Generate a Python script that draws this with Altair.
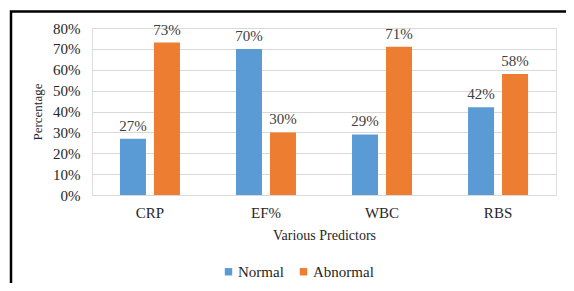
import altair as alt
import pandas as pd

categories = ["CRP", "EF%", "WBC", "RBS"]
normal = [27, 70, 29, 42]
abnormal = [73, 30, 71, 58]
series = ["Normal", "Abnormal"]
colors = ["#5B9BD5", "#ED7D31"]

rows = []
for i, c in enumerate(categories):
    rows.append({"cat": c, "series": "Normal", "value": normal[i] / 100})
    rows.append({"cat": c, "series": "Abnormal", "value": abnormal[i] / 100})
df = pd.DataFrame(rows)

FONT = "Liberation Serif"

x = alt.X("cat:N", sort=categories,
          scale=alt.Scale(paddingInner=0.483, paddingOuter=0.241),
          axis=alt.Axis(title="Various  Predictors", labelAngle=0, ticks=False, domain=False,
                        labelFont=FONT, labelFontSize=15, labelColor="#262626", labelPadding=10,
                        titleFont=FONT, titleFontSize=14, titleFontWeight="normal",
                        titleColor="#262626", titlePadding=8))
xo = alt.XOffset("series:N", sort=series,
                 scale=alt.Scale(paddingInner=0.235, paddingOuter=0))
y = alt.Y("value:Q", scale=alt.Scale(domain=[0, 0.8]),
          axis=alt.Axis(title="Percentage", format=".0%", values=[0, .1, .2, .3, .4, .5, .6, .7, .8],
                        ticks=False, domain=False, gridColor="#D9D9D9", gridWidth=1,
                        labelFont=FONT, labelFontSize=15, labelColor="#262626", labelPadding=12,
                        titleFont=FONT, titleFontSize=13, titleFontWeight="normal",
                        titleColor="#262626", titlePadding=8))
color = alt.Color("series:N", sort=series,
                  scale=alt.Scale(domain=series, range=colors),
                  legend=alt.Legend(title=None, orient="none", direction="horizontal",
                                    legendX=129, legendY=236, symbolType="square", symbolSize=55,
                                    symbolStrokeWidth=0, labelFont=FONT, labelFontSize=15,
                                    labelColor="#262626", columnPadding=12, labelOffset=2))

base = alt.Chart(df).encode(x=x, xOffset=xo, y=y)
bars = base.mark_bar().encode(color=color)
labels = base.mark_text(baseline="bottom", dy=-5, font=FONT, fontSize=15, color="#404040").encode(
    text=alt.Text("value:Q", format=".0%"))

frame = alt.Chart(pd.DataFrame({"a": [0]})).mark_rect(
    fill=None, stroke="black", strokeWidth=2.5, clip=False).encode(
    x=alt.value(-81), x2=alt.value(620), y=alt.value(-16.5), y2=alt.value(400))

chart = alt.layer(frame, bars, labels).properties(
    width=464, height=167,
    autosize=alt.AutoSizeParams(type="none"),
    padding={"left": 84, "top": 20, "right": 10, "bottom": 88},
).configure_view(stroke=None).configure(background="white", font=FONT).configure_legend(
    labelFont=FONT, labelFontSize=15, labelColor="#262626")

chart.save("out.html", embed_options={"renderer": "svg", "actions": False})
